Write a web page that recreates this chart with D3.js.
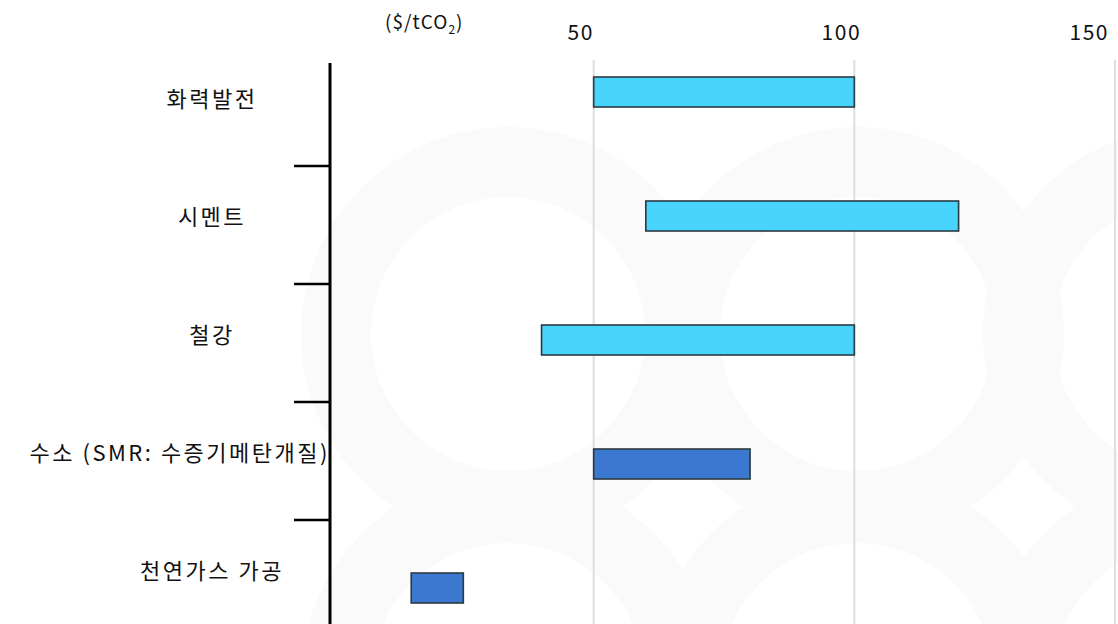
<!DOCTYPE html>
<html><head><meta charset="utf-8">
<script src="https://cdn.jsdelivr.net/npm/d3@7/dist/d3.min.js"></script>
<style>
body{margin:0;background:#fff;}
svg{display:block;font-family:"Noto Sans CJK KR","Noto Sans",sans-serif;}
</style></head>
<body><svg id="c" width="1118" height="624"></svg>
<script>
const categories = ["화력발전","시멘트","철강","수소 (SMR: 수증기메탄개질)","천연가스 가공"];
const lowValues  = [50, 60, 40, 50, 15];
const highValues = [100, 120, 100, 80, 25];
const groups     = ["a","a","a","b","b"];
const xTicks     = [50, 100, 150];
const unitLabel  = "($/tCO";

const W = 1118, H = 624;
const svg = d3.select("#c");
const x = d3.scaleLinear().domain([0,150]).range([333,1115]);
const yRow = d3.scaleBand().domain(categories).range([48,638]);
const yBar = d3.scaleBand().domain(categories).range([30,650]);
const color = d3.scaleOrdinal().domain(["a","b"]).range(["#48d3fc","#3c78d0"]);

// faint watermark rings
const wm = svg.append("g").attr("fill","none").attr("stroke","#fafafa").attr("stroke-width",70);
[[508,334],[857,334],[1190,334],[508,680],[857,680],[1190,680]].forEach(c=>{
  wm.append("circle").attr("cx",c[0]).attr("cy",c[1]).attr("r",172);
});

// gridlines
svg.append("g").selectAll("line").data(xTicks).join("line")
  .attr("x1",d=>x(d)).attr("x2",d=>x(d)).attr("y1",60).attr("y2",H)
  .attr("stroke","#dedede").attr("stroke-width",2);

// top tick labels
svg.append("g").selectAll("text").data(xTicks).join("text")
  .attr("x",(d,i)=> i===xTicks.length-1 ? x(d)-6 : x(d)-13)
  .attr("y",40)
  .attr("text-anchor",(d,i)=> i===xTicks.length-1 ? "end":"middle")
  .attr("font-size",21).attr("letter-spacing",1.5).attr("fill","#111")
  .text(d=>d);

// unit label
const ut = svg.append("text").attr("x",385).attr("y",29).attr("font-size",19)
  .attr("letter-spacing",1).attr("fill","#111");
ut.append("tspan").text(unitLabel);
ut.append("tspan").attr("font-size",12).attr("dy",5).text("2");
ut.append("tspan").attr("dy",-5).text(")");

// bars
svg.append("g").selectAll("rect").data(categories).join("rect")
  .attr("x",(d,i)=>x(lowValues[i]))
  .attr("width",(d,i)=>x(highValues[i])-x(lowValues[i]))
  .attr("y",d=>yBar(d)+yBar.bandwidth()/2-15)
  .attr("height",30)
  .attr("fill",(d,i)=>color(groups[i]))
  .attr("stroke","#2b3a40").attr("stroke-width",1.6);

// axis line and separators
svg.append("line").attr("x1",330).attr("x2",330).attr("y1",63).attr("y2",H)
  .attr("stroke","#000").attr("stroke-width",3);
svg.append("g").selectAll("line").data(categories.slice(1)).join("line")
  .attr("x1",294).attr("x2",330)
  .attr("y1",d=>yRow(d)).attr("y2",d=>yRow(d))
  .attr("stroke","#000").attr("stroke-width",2.5);

// category labels
const lbl = svg.append("g").selectAll("text").data(categories).join("text")
  .attr("y",d=>yRow(d)+yRow.bandwidth()/2)
  .attr("font-size",22).attr("letter-spacing",2.5).attr("fill","#111").attr("text-anchor","start")
  .text(d=>d);
lbl.each(function(){
  const w = this.getComputedTextLength();
  const cx = Math.min(212, 330 - w/2);
  d3.select(this).attr("x",cx - w/2);
});
</script></body></html>
